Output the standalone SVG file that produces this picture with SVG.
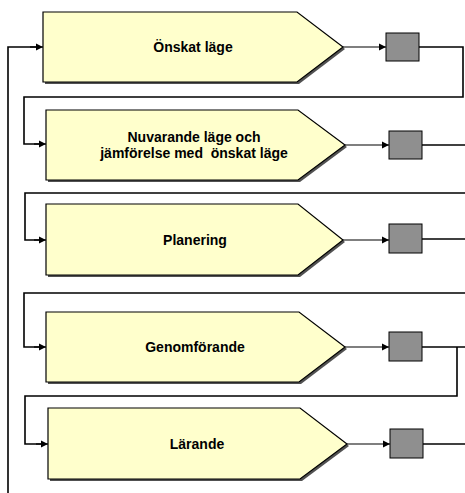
<svg xmlns="http://www.w3.org/2000/svg" width="465" height="493" viewBox="0 0 465 493">
<style>
.box{fill:#FFFFCC;stroke:#000;stroke-width:1.2}
.sh{fill:#333;opacity:0.85}
.sq{fill:#8F8F8F;stroke:#000;stroke-width:1}
.t{font-family:"Liberation Sans",Arial,sans-serif;font-weight:bold;font-size:14px;fill:#000;text-anchor:middle}
.ln{fill:none;stroke:#000;stroke-width:1.6}
.ar{fill:none;stroke:#000;stroke-width:1.2;marker-end:url(#ah)}
</style>
<defs>
<marker id="ah" markerWidth="8" markerHeight="8" refX="7" refY="4" orient="auto" markerUnits="userSpaceOnUse">
<path d="M0,0.5 L7,4 L0,7.5 Z" fill="#000"/>
</marker>
</defs>
<rect width="465" height="493" fill="#fff"/>
<g id="connectors">
<path class="ln" d="M8,493 V47 H36"/>
<path class="ar" d="M30,47 H43"/>
<path class="ar" d="M343,47 H386"/>
<path class="ln" d="M419,47 H463 V97 H24 V144 H40"/>
<path class="ar" d="M34,144 H46"/>
<path class="ar" d="M345,145 H389"/>
<path class="ln" d="M422,145 H465"/>
<path class="ln" d="M465,193 H25 V240 H40"/>
<path class="ar" d="M34,240 H46"/>
<path class="ar" d="M343,240 H389"/>
<path class="ln" d="M422,239 H465"/>
<path class="ln" d="M465,293 H24 V347 H40"/>
<path class="ar" d="M34,347 H46"/>
<path class="ar" d="M345,347 H389"/>
<path class="ln" d="M422,347 H465"/>
<path class="ln" d="M457,347 V396 H25 V444 H42"/>
<path class="ar" d="M36,444 H48"/>
<path class="ar" d="M347,444 H390"/>
<path class="ln" d="M423,444 H465"/>
</g>
<g id="n1">
<path class="sh" d="M45,14 H299 L345,49 L299,84 H45 Z"/>
<path class="box" d="M43,12 H297 L343,47 L297,82 H43 Z"/>
<text class="t" x="193" y="52">Önskat läge</text>
</g>
<g id="s1"><rect class="sq" x="386" y="33" width="33" height="28"/></g>
<g id="n2">
<path class="sh" d="M48,112 H300 L347,147 L300,182 H48 Z"/>
<path class="box" d="M46,110 H298 L345,145 L298,180 H46 Z"/>
<text class="t" x="194" y="142">Nuvarande läge och</text>
<text class="t" x="194" y="158" xml:space="preserve">jämförelse med  önskat läge</text>
</g>
<g id="s2"><rect class="sq" x="389" y="131" width="33" height="28"/></g>
<g id="n3">
<path class="sh" d="M48,206 H300 L345,242 L300,277 H48 Z"/>
<path class="box" d="M46,204 H298 L343,240 L298,275 H46 Z"/>
<text class="t" x="195" y="245">Planering</text>
</g>
<g id="s3"><rect class="sq" x="389" y="224" width="33" height="29"/></g>
<g id="n4">
<path class="sh" d="M48,314 H301 L347,349 L301,384 H48 Z"/>
<path class="box" d="M46,312 H299 L345,347 L299,382 H46 Z"/>
<text class="t" x="195" y="352">Genomförande</text>
</g>
<g id="s4"><rect class="sq" x="389" y="332" width="33" height="29"/></g>
<g id="n5">
<path class="sh" d="M50,410 H302 L349,446 L302,481 H50 Z"/>
<path class="box" d="M48,408 H300 L347,444 L300,479 H48 Z"/>
<text class="t" x="197" y="449">Lärande</text>
</g>
<g id="s5"><rect class="sq" x="390" y="429" width="33" height="29"/></g>
</svg>
